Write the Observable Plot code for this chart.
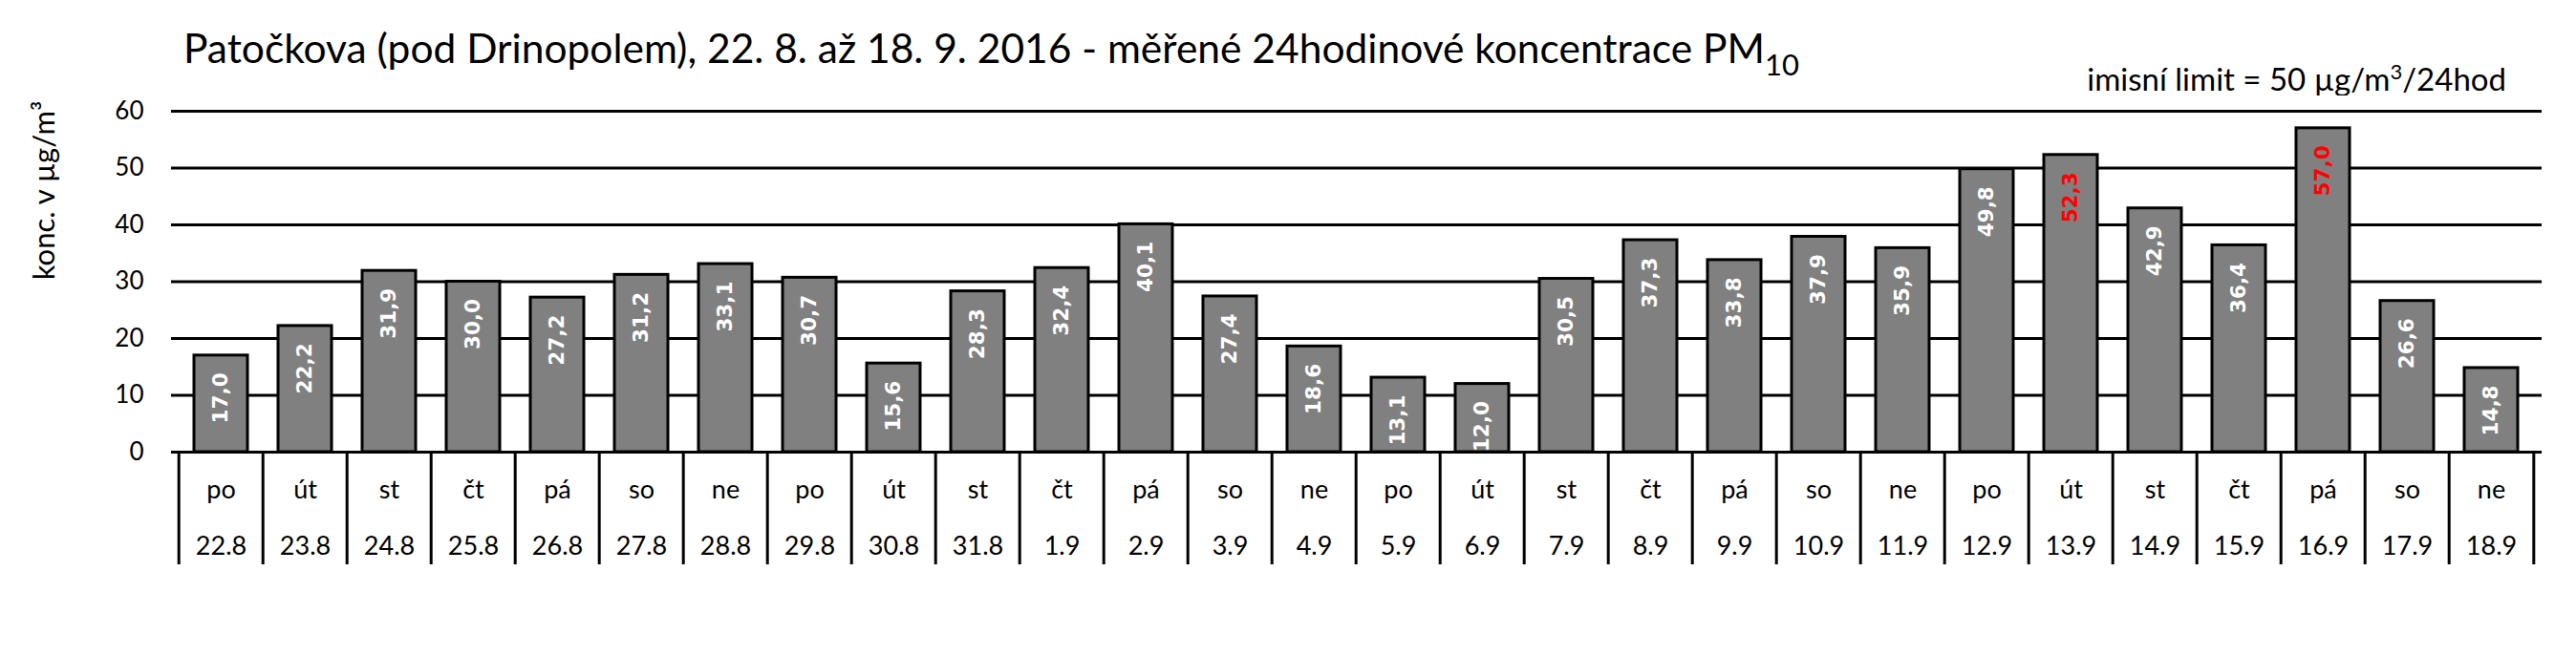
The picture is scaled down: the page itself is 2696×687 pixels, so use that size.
<!DOCTYPE html>
<html><head><meta charset="utf-8">
<script src="https://cdn.jsdelivr.net/npm/d3@7"></script>
<script src="https://cdn.jsdelivr.net/npm/@observablehq/plot@0.6"></script>
<style>
body{margin:0;background:#fff;}
#wrap{position:relative;width:2696px;height:687px;font-family:Lato,sans-serif;color:#000;overflow:hidden;}
#title{position:absolute;left:192px;top:29px;font-size:42.5px;line-height:1;white-space:nowrap;}
#title sub{font-size:31px;line-height:0;vertical-align:-13px;}
#note{position:absolute;right:73px;top:66px;font-size:33px;line-height:1;white-space:nowrap;}
#note sup{font-size:22px;line-height:0;vertical-align:12px;}
#chart{position:absolute;left:0;top:100px;}
</style></head>
<body>
<div id="wrap">
  <div id="title">Patočkova (pod Drinopolem), 22. 8. až 18. 9. 2016 - měřené 24hodinové koncentrace PM<sub>10</sub></div>
  <div id="note">imisní limit = 50 µg/m<sup>3</sup>/24hod</div>
  <div id="chart"></div>
</div>
<script>
const days = ["po","út","st","čt","pá","so","ne","po","út","st","čt","pá","so","ne",
              "po","út","st","čt","pá","so","ne","po","út","st","čt","pá","so","ne"];
const dates = ["22.8","23.8","24.8","25.8","26.8","27.8","28.8","29.8","30.8","31.8",
               "1.9","2.9","3.9","4.9","5.9","6.9","7.9","8.9","9.9","10.9",
               "11.9","12.9","13.9","14.9","15.9","16.9","17.9","18.9"];
const values = [17.0,22.2,31.9,30.0,27.2,31.2,33.1,30.7,15.6,28.3,
                32.4,40.1,27.4,18.6,13.1,12.0,30.5,37.3,33.8,37.9,
                35.9,49.8,52.3,42.9,36.4,57.0,26.6,14.8];
const yTicks = [0,10,20,30,40,50,60];
const limit = 50;
const yLabel = "konc. v µg/m³";

const data = dates.map((d,i)=>({date:d, day:days[i], value:values[i]}));

const W = 2696, H = 587, ml = 179, mr = 36, mt = 16, mb = 214;
const step = (W - ml - mr) / dates.length;
const fmt = v => d3.format(".1f")(v).replace(".", ",");

const chart = Plot.plot({
  width: W, height: H,
  marginLeft: ml, marginRight: mr, marginTop: mt, marginBottom: mb,
  style: {fontFamily: "Lato, sans-serif", background: "white", color: "black"},
  x: {domain: dates, paddingInner: 0.36, paddingOuter: 0.18, axis: null},
  y: {domain: [0, 60], axis: null},
  marks: [
    Plot.gridY(yTicks, {stroke: "black", strokeOpacity: 1, strokeWidth: 3}),
    Plot.barY(data, {x: "date", y: "value", fill: "#808080", stroke: "black", strokeWidth: 3}),
    Plot.text(data, {x: "date", y: "value", text: d => fmt(d.value), rotate: -90,
      textAnchor: "end", lineAnchor: "middle", dy: 18,
      fill: d => d.value > limit ? "#ff0000" : "white",
      fontWeight: "bold", fontFamily: "DejaVu Sans, sans-serif", fontSize: 21.5}),
    Plot.axisY(yTicks, {tickSize: 0, tickPadding: 29, fontSize: 26, label: null}),
    Plot.axisX(dates, {tickSize: 118, tickFormat: () => "", dx: -step/2, strokeWidth: 3, label: null}),
    Plot.axisX([dates[dates.length-1]], {tickSize: 118, tickFormat: () => "", dx: step/2, strokeWidth: 3, label: null}),
    Plot.axisX(dates, {tickSize: 0, tickPadding: 29, fontSize: 27, tickFormat: d => days[dates.indexOf(d)], label: null}),
    Plot.axisX(dates, {tickSize: 0, tickPadding: 88, fontSize: 27, label: null}),
    Plot.text([yLabel], {frameAnchor: "top-left", rotate: -90, textAnchor: "middle", lineAnchor: "middle",
      dx: -132, dy: 83, fontSize: 31})
  ]
});
document.getElementById("chart").appendChild(chart);
</script>
</body></html>
